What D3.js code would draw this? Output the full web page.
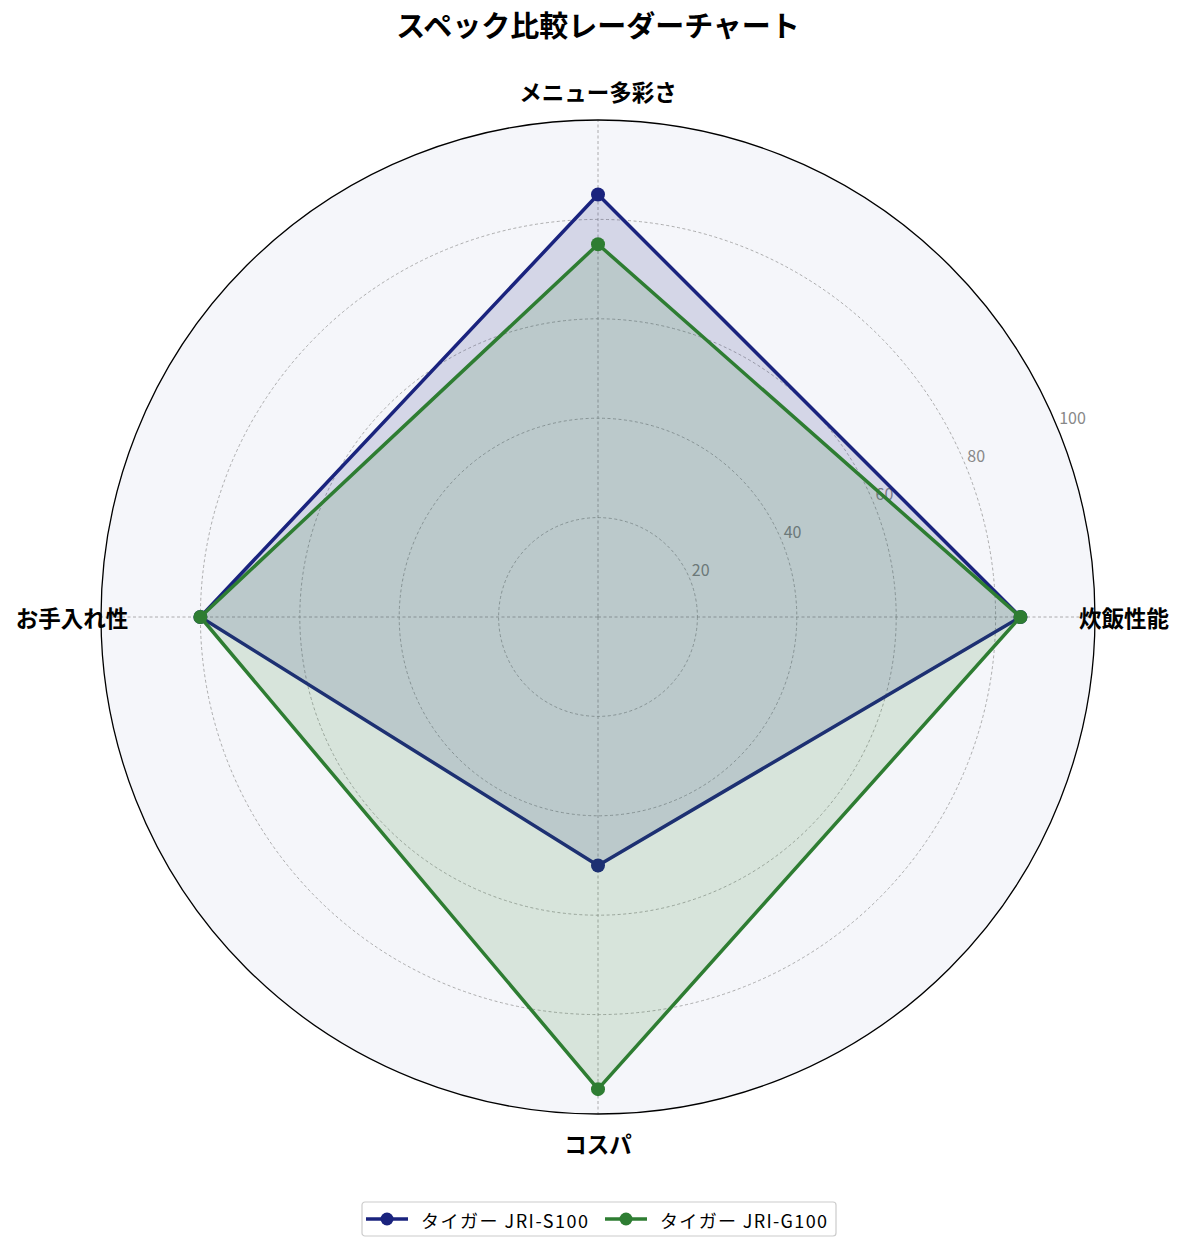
<!DOCTYPE html>
<html>
<head>
<meta charset="utf-8">
<script src="https://cdn.jsdelivr.net/npm/d3@7"></script>
<style>
  body { margin: 0; background: #fff; }
  text { font-family: "Noto Sans CJK JP", "Noto Sans", sans-serif; }
</style>
</head>
<body>
<script>
// Axis categories, clockwise from the right.
const categories = ["炊飯性能", "メニュー多彩さ", "お手入れ性", "コスパ"];

// Series names.
const seriesNames = ["タイガー JRI-S100", "タイガー JRI-G100"];

// Series values (same order as categories).
const valuesS100 = [85, 85, 80, 50];
const valuesG100 = [85, 75, 80, 95];

// Radial tick labels.
const radialTicks = [20, 40, 60, 80, 100];

const colors = ["#1a237e", "#2e7d32"];

const width = 1185, height = 1252;
const cx = 598, cy = 617, R = 497;

const svg = d3.select("body").append("svg")
    .attr("width", width)
    .attr("height", height);

// Title.
svg.append("text")
    .attr("x", cx).attr("y", 37)
    .attr("text-anchor", "middle")
    .attr("font-size", 29)
    .attr("font-weight", "bold")
    .text("スペック比較レーダーチャート");

const r = d3.scaleLinear().domain([0, 100]).range([0, R]);

// Angles: category 0 at the right, going counter-clockwise (matplotlib style).
const angle = d3.scaleOrdinal()
    .domain(categories)
    .range(categories.map((c, i) => i * 2 * Math.PI / categories.length));

const g = svg.append("g").attr("transform", `translate(${cx},${cy})`);

// Polar background.
g.append("circle").attr("r", R).attr("fill", "#f5f6fa");

// Dashed grid circles.
g.selectAll(".grid")
    .data(radialTicks.slice(0, -1))
    .join("circle")
    .attr("r", d => r(d))
    .attr("fill", "none")
    .attr("stroke", "#999")
    .attr("stroke-width", 0.8)
    .attr("stroke-dasharray", "3,2.5");

// Dashed spokes.
g.selectAll(".spoke")
    .data(categories)
    .join("line")
    .attr("x1", 0).attr("y1", 0)
    .attr("x2", d => R * Math.cos(angle(d)))
    .attr("y2", d => -R * Math.sin(angle(d)))
    .attr("stroke", "#999")
    .attr("stroke-width", 0.8)
    .attr("stroke-dasharray", "3,2.5");

// Radial tick labels at 22.5 degrees.
const labelAngle = 22.5 * Math.PI / 180;
g.selectAll(".rtick")
    .data(radialTicks)
    .join("text")
    .attr("x", d => r(d) * Math.cos(labelAngle) + 2)
    .attr("y", d => -r(d) * Math.sin(labelAngle) - 3)
    .attr("font-size", 16)
    .attr("fill", "#888")
    .text(d => d);

const line = d3.lineRadial()
    .angle(d => Math.PI / 2 - angle(d.cat))
    .radius(d => r(d.v))
    .curve(d3.curveLinearClosed);

[valuesS100, valuesG100].forEach((vals, si) => {
    const pts = categories.map((c, i) => ({cat: c, v: vals[i]}));
    g.append("path")
        .attr("d", line(pts))
        .attr("fill", colors[si])
        .attr("fill-opacity", 0.15)
        .attr("stroke", colors[si])
        .attr("stroke-width", 3.5)
        .attr("stroke-linejoin", "round");
    g.selectAll(".pt" + si)
        .data(pts)
        .join("circle")
        .attr("cx", d => r(d.v) * Math.cos(angle(d.cat)))
        .attr("cy", d => -r(d.v) * Math.sin(angle(d.cat)))
        .attr("r", 7)
        .attr("fill", colors[si]);
});

// Outer circle.
g.append("circle").attr("r", R)
    .attr("fill", "none")
    .attr("stroke", "#000")
    .attr("stroke-width", 1.3);

// Category labels.
g.selectAll(".cat")
    .data(categories)
    .join("text")
    .attr("x", d => 526 * Math.cos(angle(d)))
    .attr("y", d => -526 * Math.sin(angle(d)))
    .attr("text-anchor", "middle")
    .attr("dominant-baseline", "central")
    .attr("font-size", 22.5)
    .attr("font-weight", "bold")
    .text(d => d);

// Legend.
const legend = svg.append("g").attr("transform", "translate(362,1202)");
legend.append("rect")
    .attr("width", 474).attr("height", 34)
    .attr("rx", 3)
    .attr("fill", "#fff")
    .attr("stroke", "#ccc")
    .attr("stroke-width", 1.2);

const itemX = [4, 243];
seriesNames.forEach((name, i) => {
    const item = legend.append("g").attr("transform", `translate(${itemX[i]},17)`);
    item.append("line")
        .attr("x1", 0).attr("x2", 42)
        .attr("stroke", colors[i])
        .attr("stroke-width", 3.5);
    item.append("circle")
        .attr("cx", 21).attr("r", 6.5)
        .attr("fill", colors[i]);
    item.append("text")
        .attr("x", 55).attr("y", 1)
        .attr("dominant-baseline", "central")
        .attr("font-size", 18)
        .attr("textLength", 167)
        .attr("lengthAdjust", "spacing")
        .text(name);
});
</script>
</body>
</html>
